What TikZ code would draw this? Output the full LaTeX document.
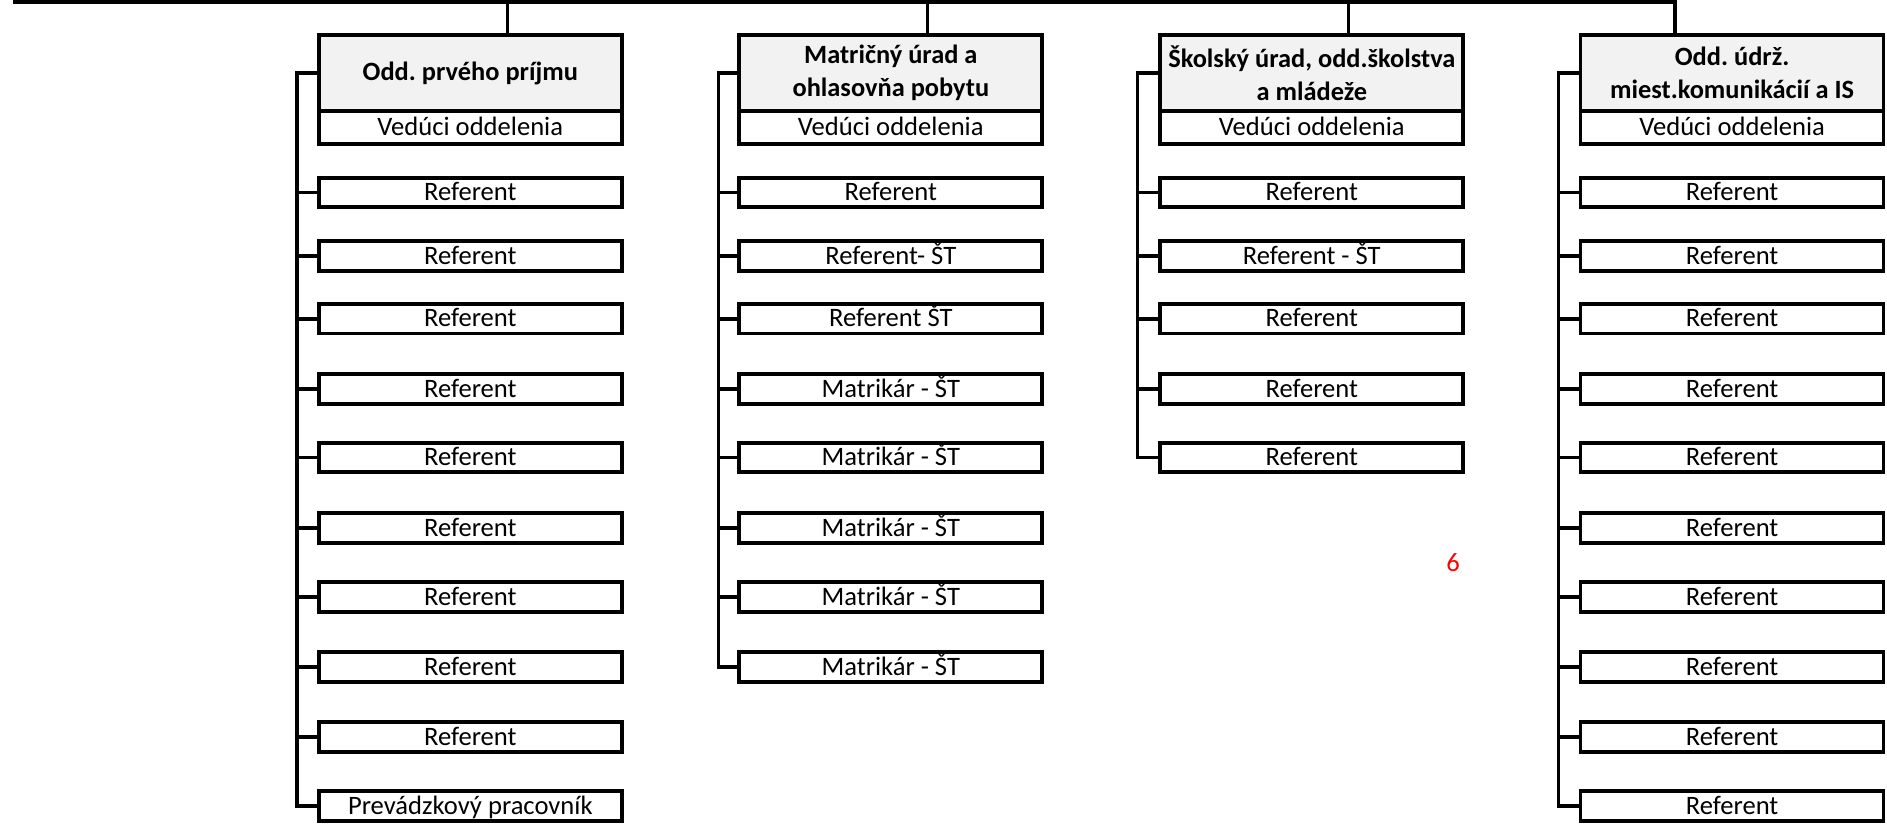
\documentclass[tikz,border=0pt]{standalone}
\usepackage{fontspec}
\setmainfont{Carlito}
\frenchspacing
\definecolor{headgray}{HTML}{F2F2F2}
\definecolor{numred}{HTML}{FF0000}
\tikzset{
  box/.style={draw, line width=3.7pt, minimum width=303pt, minimum height=29.5pt,
    inner sep=0pt, fill=white, text height=16.5pt, text depth=0pt,
    font=\fontsize{26.6}{31}\selectfont},
  headbox/.style={draw, line width=3.7pt, minimum width=303pt, minimum height=76pt,
    inner sep=0pt, fill=headgray, align=center,
    font=\bfseries\fontsize{26.4}{33.5}\selectfont},
  leadbox/.style={box, minimum height=33.3pt},
  conn/.style={line width=3.6pt},
  topconn/.style={line width=3.2pt},
}
\begin{document}
\begin{tikzpicture}[x=1pt,y=-1pt]
\useasboundingbox (0,0) rectangle (1887,826);
\def\rowy{{0,192.5,256,318.7,389,457.5,528,597,667,737,806}}
% columns: centre x and spine x
\def\cxA{470.3}\def\cxB{890.8}\def\cxC{1311.8}\def\cxD{1732.1}
\coordinate (sp1) at (296.7,0);
\coordinate (sp2) at (718.3,0);
\coordinate (sp3) at (1137.5,0);
\coordinate (sp4) at (1558.3,0);
% headers
\node[headbox] (h1) at (\cxA,73) {Odd. prvého príjmu};
\node[leadbox] (v1) at (\cxA,127.65) {Vedúci oddelenia};
\node[headbox] (h2) at (\cxB,73) {Matričný úrad a\\ohlasovňa pobytu};
\node[leadbox] (v2) at (\cxB,127.65) {Vedúci oddelenia};
\node[headbox] (h3) at (\cxC,73) {Školský úrad, odd.školstva\\a mládeže};
\node[leadbox] (v3) at (\cxC,127.65) {Vedúci oddelenia};
\node[headbox] (h4) at (\cxD,73) {Odd. údrž.\\miest.komunikácií a IS};
\node[leadbox] (v4) at (\cxD,127.65) {Vedúci oddelenia};
% top line
\coordinate (tl) at (13,1.8);
\coordinate (tr) at (1676.6,1.8);
\coordinate (t1) at (507.7,1.8);
\coordinate (t2) at (927.7,1.8);
\coordinate (t3) at (1348.3,1.8);
\coordinate (t4) at (1675,1.8);
\draw[conn] (tl) -- (tr);
\foreach \k in {1,2,3,4}{\draw[topconn] (t\k) -- (t\k |- h\k.north);}
% column 1
\foreach \i/\t in {1/Referent,2/Referent,3/Referent,4/Referent,5/Referent,6/Referent,7/Referent,8/Referent,9/Referent,10/Prevádzkový pracovník}{
  \pgfmathsetmacro\yy{\rowy[\i]}
  \node[box] (a\i) at (\cxA,\yy) {\t};
  \draw[conn] (a\i.west) -- (a\i.west -| sp1);
}
\draw[conn] (h1.west) -- (h1.west -| sp1) -- (a10.west -| sp1) -- (a10.west);
% column 2
\foreach \i/\t in {1/Referent,2/Referent- ŠT,3/Referent ŠT,4/Matrikár - ŠT,5/Matrikár - ŠT,6/Matrikár - ŠT,7/Matrikár - ŠT,8/Matrikár - ŠT}{
  \pgfmathsetmacro\yy{\rowy[\i]}
  \node[box] (b\i) at (\cxB,\yy) {\t};
  \draw[conn] (b\i.west) -- (b\i.west -| sp2);
}
\draw[conn] (h2.west) -- (h2.west -| sp2) -- (b8.west -| sp2) -- (b8.west);
% column 3
\foreach \i/\t in {1/Referent,2/Referent - ŠT,3/Referent,4/Referent,5/Referent}{
  \pgfmathsetmacro\yy{\rowy[\i]}
  \node[box] (c\i) at (\cxC,\yy) {\t};
  \draw[conn] (c\i.west) -- (c\i.west -| sp3);
}
\draw[conn] (h3.west) -- (h3.west -| sp3) -- (c5.west -| sp3) -- (c5.west);
% column 4
\foreach \i in {1,...,10}{
  \pgfmathsetmacro\yy{\rowy[\i]}
  \node[box] (d\i) at (\cxD,\yy) {Referent};
  \draw[conn] (d\i.west) -- (d\i.west -| sp4);
}
\draw[conn] (h4.west) -- (h4.west -| sp4) -- (d10.west -| sp4) -- (d10.west);
% red number
\node[text=numred, font=\fontsize{26.6}{31}\selectfont, inner sep=0pt] (num) at (1453,563) {6};
\end{tikzpicture}
\end{document}
